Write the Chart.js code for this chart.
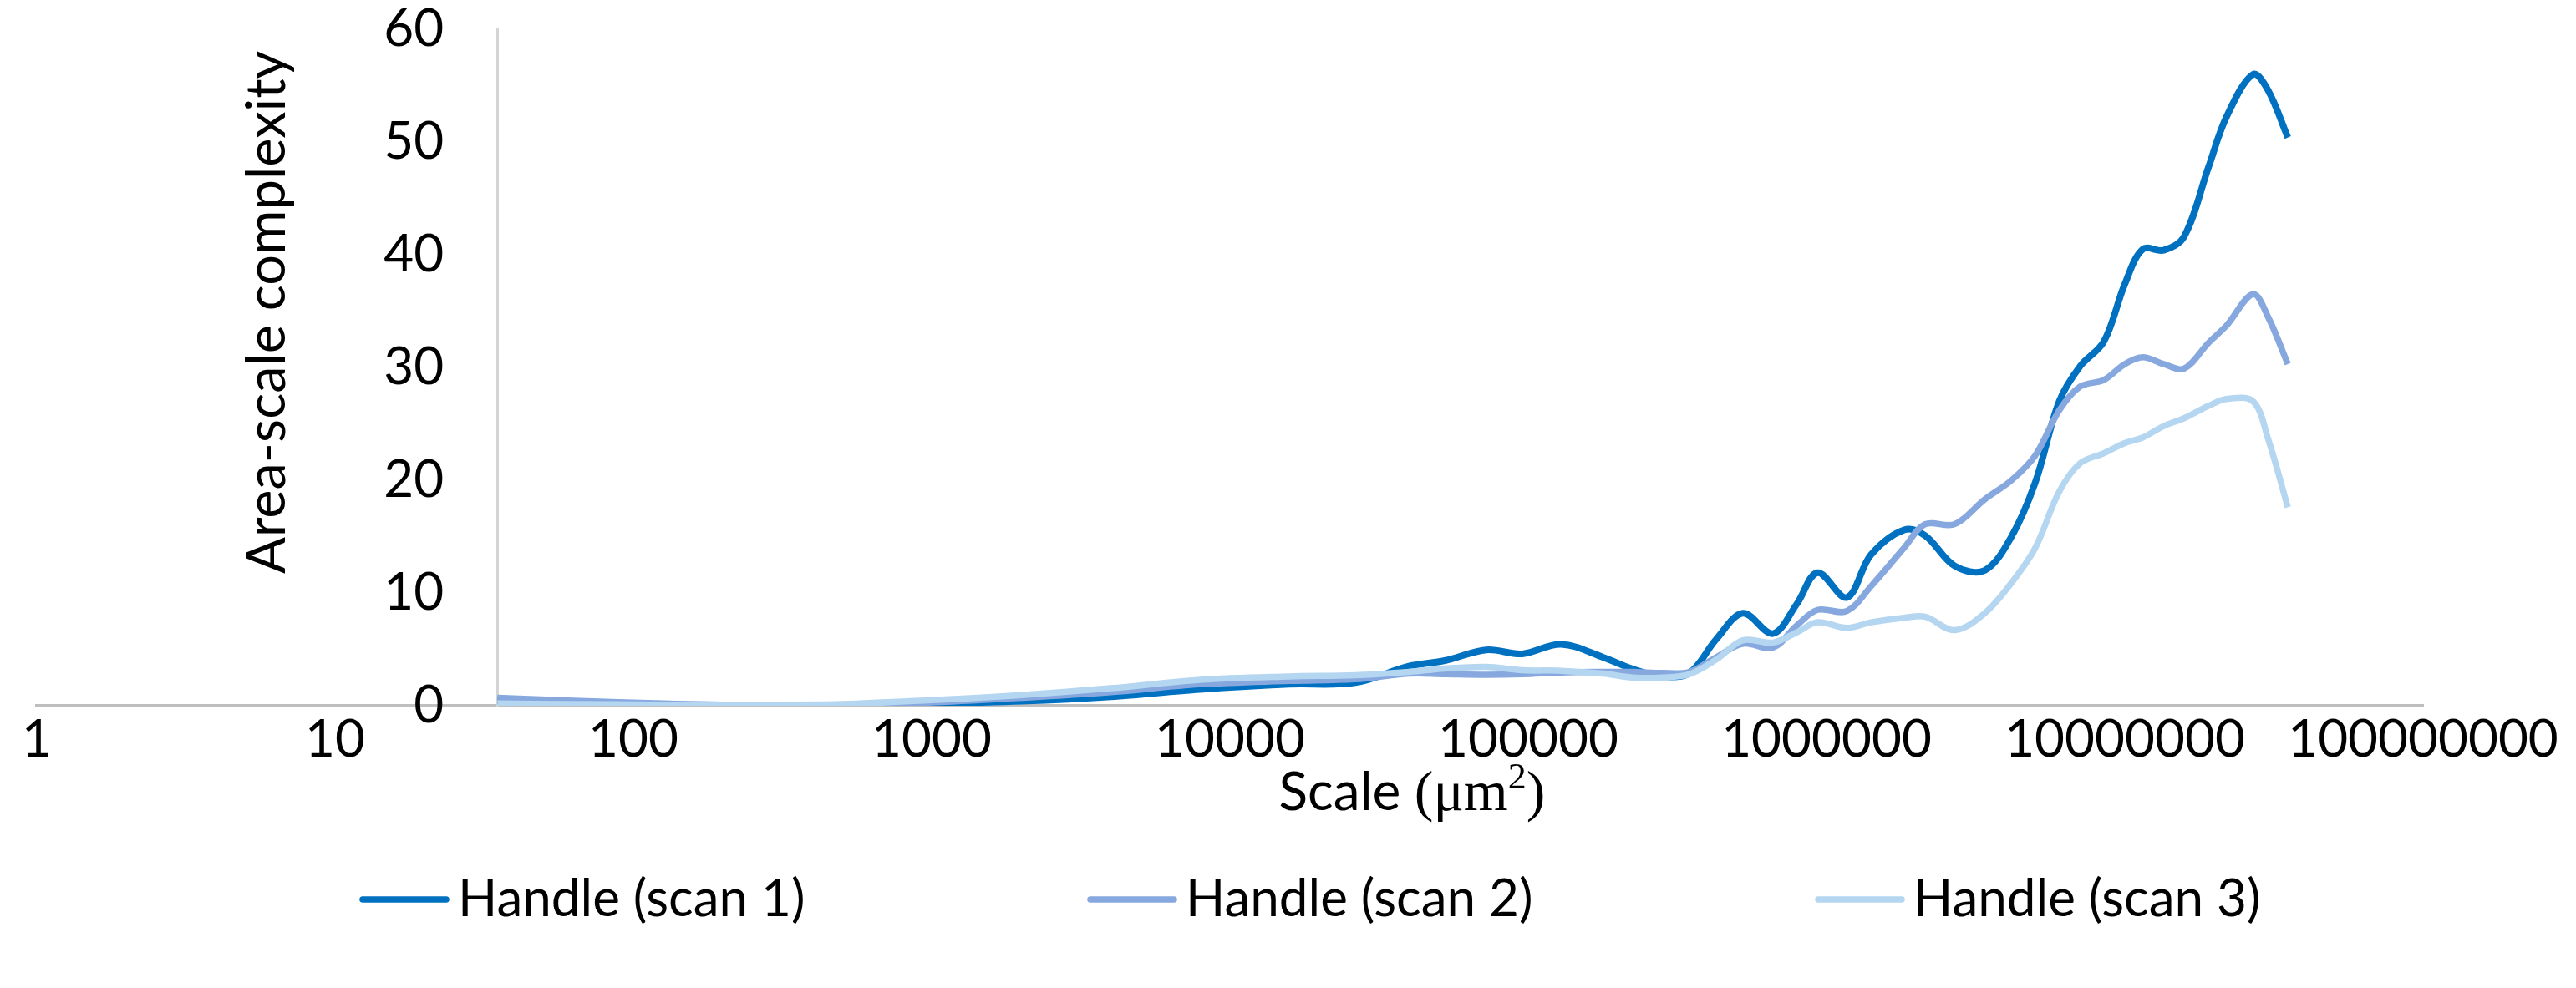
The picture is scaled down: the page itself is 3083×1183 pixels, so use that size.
<!DOCTYPE html>
<html>
<head>
<meta charset="utf-8">
<script src="https://cdn.jsdelivr.net/npm/chart.js@4/dist/chart.umd.min.js"></script>
<style>
  html, body { margin: 0; padding: 0; background: #fff; }
</style>
</head>
<body>
<canvas id="chart" width="3083" height="1183"></canvas>
<script>
// 横轴：尺度 (μm²)，对数坐标
const scaleValues = [35, 63, 126, 251, 501, 1000, 2000, 3980, 7940, 15800,
    26300, 39800, 52500, 72400, 95500, 129000, 178000, 224000, 282000, 347000,
    427000, 525000, 661000, 794000, 933000, 1170000, 1410000, 1820000, 2140000, 2690000,
    3390000, 4170000, 5010000, 6030000, 7080000, 8510000, 10000000, 11500000, 13500000, 15800000,
    19100000, 21900000, 26900000, 30200000, 35200000];

// 三次扫描的面积尺度复杂度
const scan1 = [0.4, 0.25, 0.08, 0.0, 0.0, 0.2, 0.4, 0.8, 1.45, 1.9,
    2.05, 3.5, 4.0, 4.95, 4.6, 5.45, 4.3, 3.25, 2.6, 2.9,
    5.9, 8.2, 6.4, 9.0, 11.8, 9.6, 13.4, 15.6, 15.1, 12.4,
    12.0, 15.0, 19.8, 27.0, 30.1, 32.3, 37.4, 40.5, 40.4, 41.6,
    47.8, 52.2, 56.0, 54.6, 50.4];
const scan2 = [0.7, 0.45, 0.2, 0.05, 0.05, 0.3, 0.7, 1.2, 1.9, 2.2,
    2.35, 2.85, 2.8, 2.75, 2.8, 2.95, 3.0, 3.0, 2.9, 3.0,
    4.3, 5.5, 5.15, 7.1, 8.5, 8.4, 10.6, 14.0, 16.1, 16.1,
    18.3, 20.0, 22.2, 26.2, 28.3, 28.9, 30.3, 30.9, 30.3, 29.9,
    32.2, 33.7, 36.5, 34.5, 30.3];
const scan3 = [0.2, 0.15, 0.1, 0.1, 0.15, 0.5, 0.95, 1.55, 2.3, 2.6,
    2.7, 3.0, 3.3, 3.45, 3.15, 3.1, 2.85, 2.5, 2.5, 2.8,
    4.1, 5.8, 5.6, 6.5, 7.4, 6.9, 7.4, 7.8, 7.9, 6.7,
    8.2, 10.9, 14.0, 19.0, 21.5, 22.4, 23.3, 23.8, 24.8, 25.5,
    26.6, 27.2, 27.0, 23.7, 17.6];

const seriesNames = ['Handle (scan 1)', 'Handle (scan 2)', 'Handle (scan 3)'];
const seriesColors = ['#0070c0', '#86a8df', '#b4d6f0'];

// 刻度
const xTickValues = [1, 10, 100, 1000, 10000, 100000, 1000000, 10000000, 100000000];
const xTickLabels = ['1', '10', '100', '1000', '10000', '100000', '1000000', '10000000', '100000000'];
const yTickValues = [0, 10, 20, 30, 40, 50, 60];

const yTitle = 'Area-scale complexity';

const sans = 'Lato, "Open Sans", sans-serif';
const serif = '"Liberation Serif", "DejaVu Serif", serif';

// 纵轴放在 x = 35 处时 Chart.js 不加 padding，这里手动把刻度文字往左挪
const yLabelGap = 64;

const decorPlugin = {
    id: 'decor',
    beforeDraw(chart) {
        const y = chart.scales.y;
        y.getLabelItems(chart.chartArea).forEach(item => {
            item.options.translation[0] -= yLabelGap;
        });
    },
    afterDraw(chart) {
        const c = chart.ctx;

        // 1. 纵轴标题
        c.save();
        c.fillStyle = '#000';
        c.font = `65px ${sans}`;
        c.textAlign = 'center';
        c.textBaseline = 'middle';
        c.translate(320, 374);
        c.rotate(-Math.PI / 2);
        c.fillText(yTitle, 0, 0);
        c.restore();

        // 2. 横轴标题 Scale (μm²)
        const parts = [
            { t: 'Scale ', f: `64px ${sans}`, dy: 0 },
            { t: '(μm', f: `68px ${serif}`, dy: 0 },
            { t: '2', f: `44px ${serif}`, dy: -26 },
            { t: ')', f: `68px ${serif}`, dy: 0 }
        ];
        c.save();
        c.fillStyle = '#000';
        c.textBaseline = 'alphabetic';
        c.textAlign = 'left';
        let total = 0;
        parts.forEach(p => { c.font = p.f; p.w = c.measureText(p.t).width; total += p.w; });
        let x = 1690 - total / 2;
        parts.forEach(p => {
            c.font = p.f;
            c.fillText(p.t, x, 970 + p.dy);
            x += p.w;
        });
        c.restore();

        // 3. 图例
        c.save();
        c.font = `62px ${sans}`;
        c.textBaseline = 'middle';
        c.textAlign = 'left';
        c.lineCap = 'round';
        seriesNames.forEach((name, i) => {
            const x0 = 430 + i * 871;
            c.strokeStyle = seriesColors[i];
            c.lineWidth = 7.5;
            c.beginPath();
            c.moveTo(x0 + 4, 1077);
            c.lineTo(x0 + 104, 1077);
            c.stroke();
            c.fillStyle = '#000';
            c.fillText(name, x0 + 118, 1077);
        });
        c.restore();
    }
};

function draw() {
    Chart.defaults.font.family = sans;
    Chart.defaults.color = '#000';

    const datasets = [scan1, scan2, scan3].map((vals, i) => ({
        label: seriesNames[i],
        data: scaleValues.map((x, j) => ({ x: x, y: vals[j] })),
        borderColor: seriesColors[i],
        backgroundColor: seriesColors[i],
        borderWidth: i === 0 ? 8 : 7.5,
        pointRadius: 0,
        tension: 0.35,
        fill: false,
        order: 3 - i // 后面的系列画在上层
    }));

    new Chart(document.getElementById('chart'), {
        type: 'line',
        data: { datasets: datasets },
        options: {
            responsive: false,
            animation: false,
            devicePixelRatio: 1,
            layout: { padding: { left: 44, right: 183, top: 35, bottom: 255.6 } },
            plugins: {
                legend: { display: false },
                tooltip: { enabled: false }
            },
            scales: {
                x: {
                    type: 'logarithmic',
                    min: 1,
                    max: 100000000,
                    afterBuildTicks: s => { s.ticks = xTickValues.map(v => ({ value: v })); },
                    afterFit: s => { s.paddingLeft = 0; s.paddingRight = 0; },
                    ticks: {
                        callback: (v, i) => xTickLabels[i],
                        autoSkip: false,
                        maxRotation: 0,
                        padding: 4,
                        color: '#000',
                        font: { family: sans, size: 62, lineHeight: 1.2 }
                    },
                    grid: { display: false, drawTicks: false },
                    border: { color: '#bfbfbf', width: 3.5 }
                },
                y: {
                    type: 'linear',
                    min: 0,
                    max: 60,
                    position: { x: scaleValues[0] },
                    afterBuildTicks: s => { s.ticks = yTickValues.map(v => ({ value: v })); },
                    afterFit: s => { s.paddingTop = 0; s.paddingBottom = 0; },
                    ticks: {
                        padding: 0,
                        color: '#000',
                        font: { family: sans, size: 62, lineHeight: 1.1 }
                    },
                    grid: { display: false, drawTicks: false },
                    border: { color: '#d4d4d4', width: 3 }
                }
            }
        },
        plugins: [decorPlugin]
    });
}

Promise.all([
    document.fonts.load(`62px Lato`),
    document.fonts.load(`62px "Liberation Serif"`)
]).then(draw, draw);
</script>
</body>
</html>
